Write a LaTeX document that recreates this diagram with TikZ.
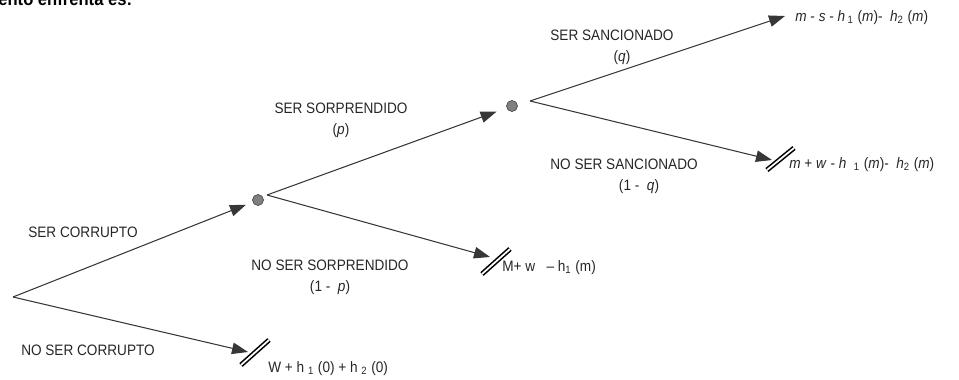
\documentclass[tikz,border=0pt]{standalone}
\usepackage{fontspec}
\setmainfont[FakeStretch=0.9]{Liberation Sans}
\usetikzlibrary{arrows.meta}
\definecolor{chancegray}{RGB}{128,128,128}
\definecolor{branchgray}{RGB}{55,55,55}

\begin{document}
\begin{tikzpicture}[x=0.02cm, y=0.02cm,
      >={Triangle[length=3.2mm, width=2.3mm]},
      lbl/.style={font=\fontsize{8.6}{10}\selectfont, text=black!85, inner sep=0pt, align=center},
      payoff/.style={lbl, anchor=west},
      chance/.style={circle, draw=black!70, fill=chancegray, minimum size=0.22cm, inner sep=0pt},
      arr/.style={->, draw=branchgray, line width=0.6pt},
      cut/.style={draw=black, double=white, line width=0.9pt, double distance=1pt}]
    \useasboundingbox (0,0) rectangle (959,379);
    % cut-off caption from the page above
    \node[anchor=base west, inner sep=0pt, font=\bfseries\fontsize{10.5}{12}\selectfont] (cap) at (-2,373) {ento enfrenta es:};
    % decision points
    \coordinate (root) at (13,82);
    \node[chance] (c1) at (258,179) {};
    \coordinate (v1) at (267,184);
    \node[chance] (c2) at (512,273) {};
    \coordinate (v2) at (530,278);
    % ends of the branches
    \coordinate (t0) at (248,27);
    \coordinate (t1) at (490,122);
    \coordinate (t3) at (785,363);
    \coordinate (t4) at (772,219);
    % arrows
    \draw[arr, shorten >=4pt] (root) -- (c1);
    \draw[arr] (root) -- (t0);
    \draw[arr, shorten >=6pt] (v1) -- (c2);
    \draw[arr] (v1) -- (t1);
    \draw[arr] (v2) -- (t3);
    \draw[arr] (v2) -- (t4);
    % cuts on the closed branches
    \draw[cut] ([shift={(-7,-13)}]t0) -- ++(28,25);
    \draw[cut] ([shift={(-8,-17)}]t1) -- ++(28,25);
    \draw[cut] ([shift={(-5,-10)}]t4) -- ++(27,22);
    % branch labels
    \node[lbl] (corr)    at (83,147)  {SER CORRUPTO};
    \node[lbl] (nocorr)  at (88,29)   {NO SER CORRUPTO};
    \node[lbl] (sorp)    at (341,259) {SER SORPRENDIDO\\[2pt](\textit{p})};
    \node[lbl] (nosorp)  at (330,102) {NO SER SORPRENDIDO\\[2pt](1 -\ \ \textit{p})};
    \node[lbl] (sanc)    at (612,332) {SER SANCIONADO\\[2pt]\hspace*{0.4cm}(\textit{q})};
    \node[lbl] (nosanc)  at (624,203) {NO SER SANCIONADO\\[2pt]\hspace*{0.6cm}(1 -\ \ \textit{q})};
    % payoffs
    \node[payoff] (p3) at (795,361) {\textit{m} - \textit{s} - \textit{h}\,\textsubscript{1} (\textit{m})-\ \ \textit{h}\textsubscript{2} (\textit{m})};
    \node[payoff] (p4) at (789,214) {\textit{m} + \textit{w} - \textit{h}\ \ \textsubscript{1} (\textit{m})-\ \ \textit{h}\textsubscript{2} (\textit{m})};
    \node[payoff] (p1) at (502,111) {M+ w\ \ \ -- h\textsubscript{1} (m)};
    \node[payoff] (p0) at (268,10)  {W + h\ \textsubscript{1} (0) + h\ \textsubscript{2} (0)};
\end{tikzpicture}
\end{document}
